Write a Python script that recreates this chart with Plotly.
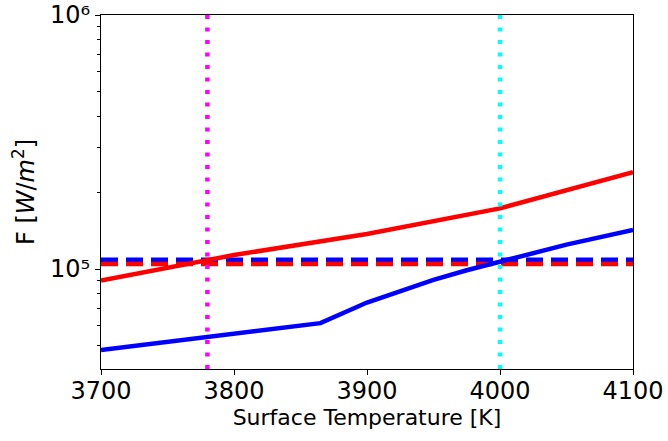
import numpy as np
import plotly.graph_objects as go

# ---- data ----
temps_red = [3700, 3800, 3900, 4000, 4100]
flux_red = [90000, 113500, 137400, 173300, 240600]

temps_blue = [3700, 3865, 3900, 3925, 3950, 3975, 4000, 4050, 4100]
flux_blue = [48000, 61200, 73800, 82200, 90600, 98900, 107200, 124700, 142600]

x_limits = [3700, 4100]
y_limits = [40400, 1e6]

flux_blue_ref = 108700
flux_red_ref = 104600

temp_magenta = 3780
temp_cyan = 4000

x_ticks = [3700, 3800, 3900, 4000, 4100]
y_major = [1e5, 1e6]
y_major_text = ["10\u2075", "10\u2076"]
y_minor = [5e4, 6e4, 7e4, 8e4, 9e4, 2e5, 3e5, 4e5, 5e5, 6e5, 7e5, 8e5, 9e5]

FONT = "DejaVu Sans"
FS = 24
LW = 4.5

fig = go.Figure()

# horizontal dashed reference lines
fig.add_trace(go.Scatter(x=x_limits, y=[flux_blue_ref] * 2, mode="lines",
                         line=dict(color="#0000ff", width=LW, dash="17px,8px"),
                         hoverinfo="skip"))
fig.add_trace(go.Scatter(x=x_limits, y=[flux_red_ref] * 2, mode="lines",
                         line=dict(color="#ff0000", width=LW, dash="17px,8px"),
                         hoverinfo="skip"))
# solid curves
fig.add_trace(go.Scatter(x=temps_blue, y=flux_blue, mode="lines",
                         line=dict(color="#0000ff", width=LW)))
fig.add_trace(go.Scatter(x=temps_red, y=flux_red, mode="lines",
                         line=dict(color="#ff0000", width=LW)))
# vertical dotted lines
fig.add_trace(go.Scatter(x=[temp_magenta] * 2, y=y_limits, mode="lines",
                         line=dict(color="#ff00ff", width=LW, dash="4px,8.5px"),
                         hoverinfo="skip"))
fig.add_trace(go.Scatter(x=[temp_cyan] * 2, y=y_limits, mode="lines",
                         line=dict(color="#00ffff", width=LW, dash="4px,8.5px"),
                         hoverinfo="skip"))

fig.update_layout(
    width=668, height=441,
    margin=dict(l=101, r=35, t=15, b=72, autoexpand=False),
    paper_bgcolor="white", plot_bgcolor="white",
    showlegend=False,
    font=dict(family=FONT, size=FS, color="black"),
)

fig.update_xaxes(
    range=x_limits, tickvals=x_ticks, ticktext=[str(t) for t in x_ticks],
    ticks="outside", ticklen=5, tickwidth=1.1, tickcolor="black",
    showline=True, linecolor="black", linewidth=1.1, mirror=True,
    showgrid=False, zeroline=False, automargin=False,
    ticklabeloverflow="allow", ticklabelstandoff=-5,
    title=dict(text="Surface Temperature [K]", standoff=4,
               font=dict(family=FONT, size=22)),
    tickfont=dict(family=FONT, size=FS),
)

fig.update_yaxes(
    type="log", range=[np.log10(y_limits[0]), np.log10(y_limits[1])],
    tickvals=y_major, ticktext=y_major_text,
    ticks="outside", ticklen=5, tickwidth=1.1, tickcolor="black",
    minor=dict(tickvals=y_minor, ticks="outside", ticklen=3, tickwidth=1.1,
               tickcolor="black", showgrid=False),
    showline=True, linecolor="black", linewidth=1.1, mirror=True,
    showgrid=False, zeroline=False, automargin=False,
    ticklabeloverflow="allow",
    title=dict(text="F [<i>W</i>/<i>m</i><sup>2</sup>]", standoff=8,
               font=dict(family=FONT, size=FS)),
    tickfont=dict(family=FONT, size=FS),
)

fig.write_html("out.html", config={"displayModeBar": False},
               post_script="document.body.style.margin='0px';")
